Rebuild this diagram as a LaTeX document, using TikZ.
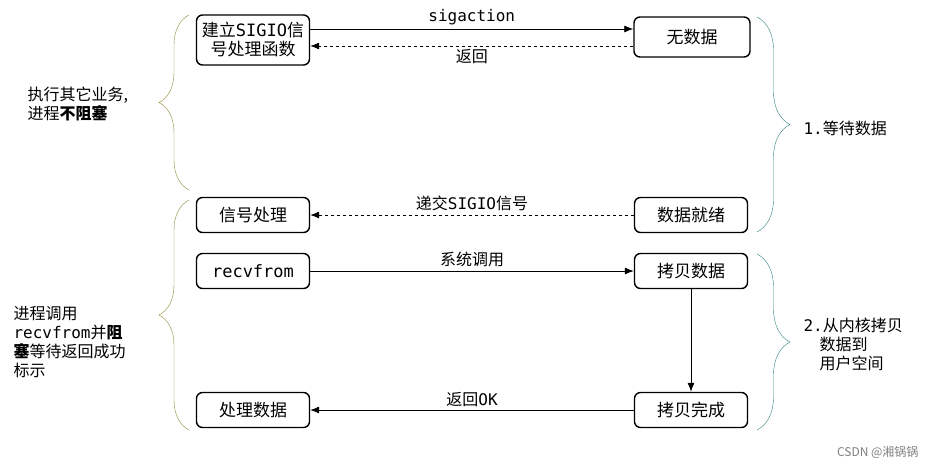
\documentclass[tikz,border=0pt]{standalone}
\usepackage{fontspec}
\setmainfont{Noto Sans CJK SC}
\setmonofont{DejaVu Sans Mono}
\usetikzlibrary{arrows.meta,decorations.pathreplacing}
\tikzstyle{stage}=[
	rectangle,
	rounded corners=6pt,
	line width=1.4pt,
	draw=black,
	minimum width=113pt,
	minimum height=35pt,
	inner sep=1pt,
	align=center,
	font=\fontsize{17}{19}\selectfont
]
\tikzstyle{call}=[
	-{Latex[length=9pt,width=7pt]},
	thick
]
\tikzstyle{back}=[
	call,
	dashed
]
\tikzstyle{lbl}=[
	font=\fontsize{16}{19}\selectfont
]
\tikzstyle{userbrace}=[
	draw=olive!60!gray,
	decorate,
	decoration={brace,amplitude=30pt,aspect=0.5}
]
\tikzstyle{kernbrace}=[
	draw=teal!60!gray,
	decorate,
	decoration={brace,amplitude=33pt}
]

\begin{document}
\begin{tikzpicture}[x=1pt,y=-1pt]
\path[use as bounding box,fill=white] (0,0) rectangle (932,469);
\node [stage, minimum height=50pt] (Setup) at (253,40) {建立\texttt{SIGIO}信\\号处理函数};
\node [stage, minimum height=40pt, minimum width=116pt] (NoData) at (692,37) {无数据};
\node [stage] (Handler) at (253,215) {信号处理};
\node [stage] (Ready) at (691,215) {数据就绪};
\node [stage] (Recv) at (253,271) {\texttt{recvfrom}};
\node [stage] (Copy) at (691,271) {拷贝数据};
\node [stage] (Process) at (253,410) {处理数据};
\node [stage] (Done) at (691,410) {拷贝完成};

\draw [call] (Setup.east |- 0,29) -- node [lbl, above] {\texttt{sigaction}} (NoData.west |- 0,29);
\draw [back] (NoData.west |- 0,46) -- node [lbl, below] {返回} (Setup.east |- 0,46);
\draw [back] (Ready) -- node [lbl, above] {递交\texttt{SIGIO}信号} (Handler);
\draw [call] (Recv) -- node [lbl, above] {系统调用} (Copy);
\draw [call] (Copy) -- (Done);
\draw [call] (Done) -- node [lbl, above] {返回\texttt{OK}} (Process);

% braces
\draw [userbrace] (189,190) -- (189,15);
\draw [userbrace] (189,430) -- (189,200);
\draw [kernbrace] (757,17) -- (757,232);
\draw [kernbrace] (757,254) -- (757,430);

\node [lbl, anchor=west, align=left] (NoBlock) at (24,104) {执行其它业务,\\进程\textbf{不阻塞}};
\node [lbl, anchor=west, align=left] (Block) at (10,342) {进程调用\\\texttt{recvfrom}并\textbf{阻}\\\textbf{塞}等待返回成功\\标示};
\node [lbl, anchor=west] (Wait) at (800,128) {\texttt{1.}等待数据};
\node [lbl, anchor=west, align=left] (Kernel) at (800,344) {\texttt{2.}从内核拷贝\\\hspace{16pt}数据到\\\hspace{16pt}用户空间};
\node [font=\fontsize{12}{14}\selectfont, text=gray, anchor=east] (Mark) at (922,452) {CSDN @湘锅锅};
\end{tikzpicture}
\end{document}
